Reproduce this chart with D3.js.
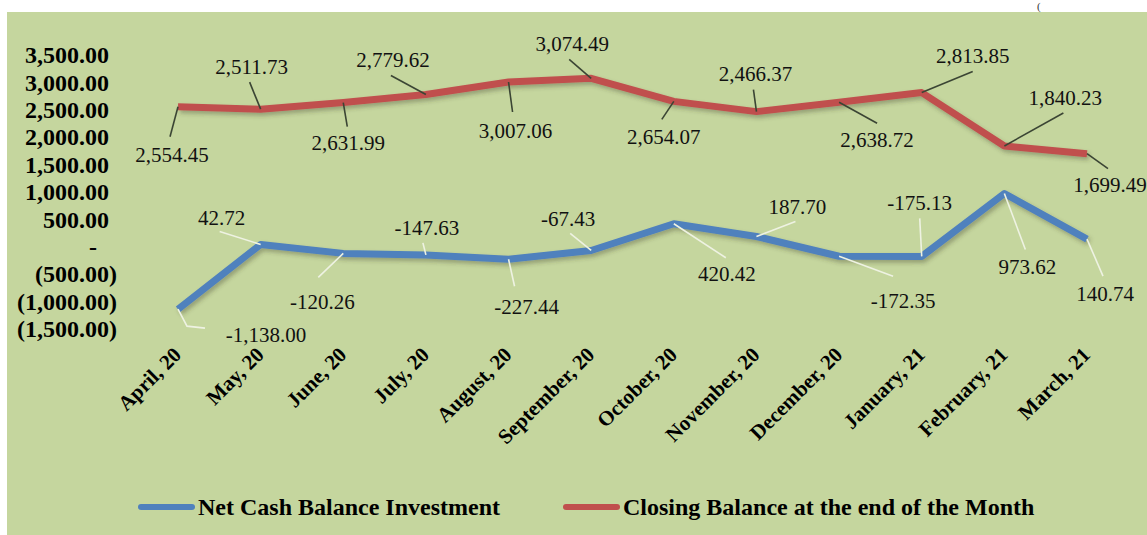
<!DOCTYPE html>
<html>
<head>
<meta charset="utf-8">
<script src="https://cdn.jsdelivr.net/npm/d3@7"></script>
<style>
  body { margin: 0; background: #fff; }
</style>
</head>
<body>
<div id="chart"></div>
<script>
var width = 1147,
    height = 535;

// data
var months = ["April, 20", "May, 20", "June, 20", "July, 20", "August, 20", "September, 20",
              "October, 20", "November, 20", "December, 20", "January, 21", "February, 21", "March, 21"];
var closingBalance = [2554.45, 2511.73, 2631.99, 2779.62, 3007.06, 3074.49,
                      2654.07, 2466.37, 2638.72, 2813.85, 1840.23, 1699.49];
var netCash = [-1138.00, 42.72, -120.26, -147.63, -227.44, -67.43,
               420.42, 187.70, -172.35, -175.13, 973.62, 140.74];
var yTicks = [-1500, -1000, -500, 0, 500, 1000, 1500, 2000, 2500, 3000, 3500];
var seriesNames = ["Net Cash Balance Investment", "Closing Balance at the end of the Month"];

// label placement relative to each point: [label dx, label dy, leader end dx, leader end dy]
var redLabelPos = [[-6, 48, -8, 30], [-9, -43, -11, -27], [5, 40, 4, 24], [-33, -35, -35, -19],
                   [7, 49, 4, 30], [-19, -35, -22, -19], [-10, 35, -12, 18], [-1, -38, -3, -22],
                   [38, 37, 38, 21], [51, -37, 51, -21], [61, -48, 59, -33], [23, 31, 21, 15]];
var blueLabelPos = [[88, 25, 27, 19], [-39, -27, -41, -13], [-21, 48, -25, 24], [1, -27, -3, -12],
                    [18, 47, 6, 27], [-23, -32, -21, -17], [53, 50, 52, 34], [41, -30, 39, -15],
                    [64, 44, 54, 20], [-2, -54, -2, -38], [23, 73, 21, 56], [18, 55, 16, 37]];

var red = "#c0504d", blue = "#4f81bd";
var serif = "'Liberation Serif', 'Times New Roman', serif";

var svg = d3.select("#chart").append("svg")
    .attr("width", width)
    .attr("height", height);

// shadow under the lines
var defs = svg.append("defs");
var filter = defs.append("filter")
    .attr("id", "shadow")
    .attr("x", "-5%").attr("y", "-20%")
    .attr("width", "110%").attr("height", "150%");
filter.append("feDropShadow")
    .attr("dx", 2)
    .attr("dy", 3)
    .attr("stdDeviation", 2)
    .attr("flood-color", "#3a3a2a")
    .attr("flood-opacity", 0.35);

// chart area background
svg.append("rect")
    .attr("x", 7)
    .attr("y", 12)
    .attr("width", width - 7)
    .attr("height", height - 12)
    .attr("fill", "#c5d69e");

// bracket at the top right (mostly cut off in the original)
svg.append("text")
    .attr("x", 1037)
    .attr("y", 10)
    .attr("font-family", serif)
    .attr("font-size", "11px")
    .attr("fill", "#333")
    .text("(");

var x = d3.scalePoint()
    .domain(months)
    .range([178, 1087]);

var y = d3.scaleLinear()
    .domain([-1500, 3500])
    .range([329, 55]);

var fmt = function(v) { return d3.format(",.2f")(v).replace("\u2212", "-"); };

// y axis, accounting style labels
var yAxis = svg.append("g")
    .attr("transform", "translate(120,0)")
    .call(d3.axisLeft(y).tickValues(yTicks).tickSize(0).tickPadding(3)
        .tickFormat(function(d) {
            if (d < 0) return "(" + d3.format(",.2f")(-d) + ")";
            if (d === 0) return "-";
            return d3.format(",.2f")(d);
        }));
yAxis.select(".domain").remove();
yAxis.selectAll("text")
    .attr("font-family", serif)
    .attr("font-size", "24px")
    .attr("font-weight", "bold")
    .attr("fill", "#000");
yAxis.selectAll(".tick").filter(function(d) { return d >= 0; }).select("text")
    .append("tspan")
    .attr("fill-opacity", 0)
    .text(function(d) { return d === 0 ? "0)" : ")"; });

// x axis labels
var xAxis = svg.append("g")
    .attr("transform", "translate(0,356)")
    .call(d3.axisBottom(x).tickSize(0).tickPadding(0));
xAxis.select(".domain").remove();
xAxis.selectAll("text")
    .attr("font-family", serif)
    .attr("font-size", "21px")
    .attr("font-weight", "bold")
    .attr("fill", "#000")
    .attr("text-anchor", "end")
    .attr("x", 4)
    .attr("y", 0)
    .attr("dy", 0)
    .attr("transform", "rotate(-45,4,0)");

var line = d3.line()
    .x(function(d, i) { return x(months[i]); })
    .y(function(d) { return y(d); });

// lines
svg.append("path")
    .datum(closingBalance)
    .attr("d", line)
    .attr("fill", "none")
    .attr("stroke", red)
    .attr("stroke-width", 7)
    .attr("stroke-linejoin", "round")
    .style("filter", "url(#shadow)");

svg.append("path")
    .datum(netCash)
    .attr("d", line)
    .attr("fill", "none")
    .attr("stroke", blue)
    .attr("stroke-width", 7)
    .attr("stroke-linejoin", "round")
    .style("filter", "url(#shadow)");

// data labels with leader lines
function drawLabels(values, pos, leaderColor) {
    var g = svg.append("g");
    values.forEach(function(v, i) {
        var px = x(months[i]), py = y(v), p = pos[i];
        var pts = [[px, py]];
        if (i === 0 && values === netCash) pts.push([px + 9, py + 17]);
        pts.push([px + p[2], py + p[3]]);
        g.append("path")
            .attr("d", d3.line()(pts))
            .attr("fill", "none")
            .attr("stroke", leaderColor)
            .attr("stroke-width", 1.6);
        g.append("text")
            .attr("x", px + p[0])
            .attr("y", py + p[1])
            .attr("dy", "0.35em")
            .attr("text-anchor", "middle")
            .attr("font-family", serif)
            .attr("font-size", "21px")
            .attr("fill", "#111")
            .text(fmt(v));
    });
}
drawLabels(closingBalance, redLabelPos, "#3b4534");
drawLabels(netCash, blueLabelPos, "#eef2e2");

// legend
var legend = svg.append("g");
[[138, blue, seriesNames[0]], [563, red, seriesNames[1]]].forEach(function(l) {
    legend.append("line")
        .attr("x1", l[0] + 3).attr("x2", l[0] + 54)
        .attr("y1", 507).attr("y2", 507)
        .attr("stroke", l[1])
        .attr("stroke-width", 6)
        .attr("stroke-linecap", "round");
    legend.append("text")
        .attr("x", l[0] + 60)
        .attr("y", 507)
        .attr("dy", "0.35em")
        .attr("font-family", serif)
        .attr("font-size", "24px")
        .attr("font-weight", "bold")
        .attr("fill", "#000")
        .text(l[2]);
});
</script>
</body>
</html>
